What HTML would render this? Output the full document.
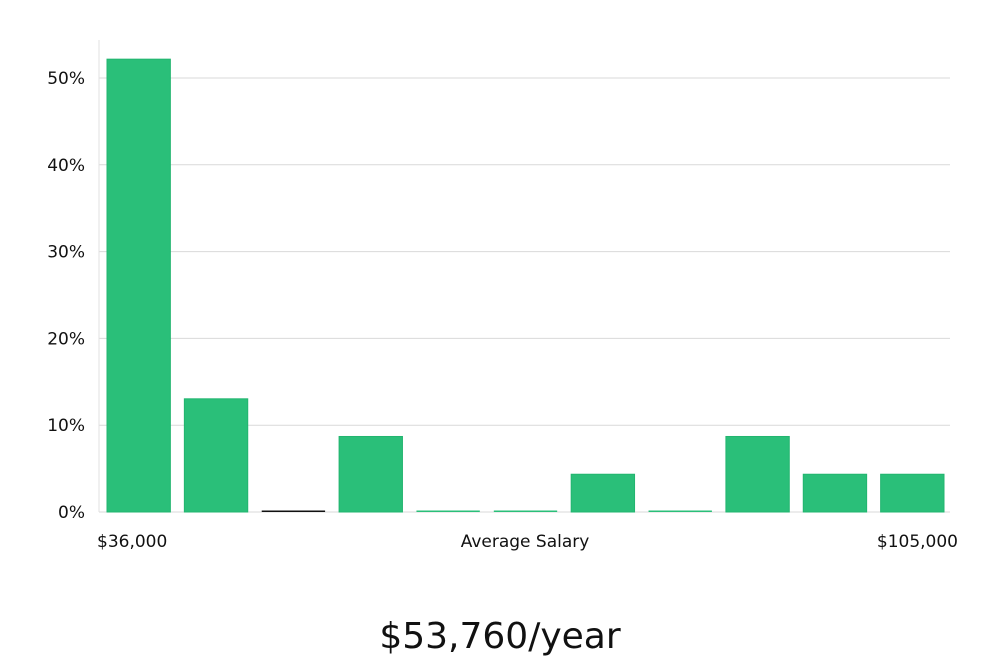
<!DOCTYPE html>
<html><head><meta charset="utf-8"><style>
body{margin:0;background:#fff;width:1000px;height:660px;overflow:hidden}
svg{display:block}
text{font-family:"DejaVu Sans","Liberation Sans",sans-serif;fill:#111}
</style></head><body>
<svg id="chart" width="1000" height="660"></svg>
<script>
const categories = ["b1","b2","b3","b4","b5","b6","b7","b8","b9","b10","b11"];
const values = [52.17, 13.04, 0, 8.70, 0, 0, 4.35, 0, 8.70, 4.35, 4.35];
const yTicks = [0, 10, 20, 30, 40, 50];
const yTickLabels = ["0%","10%","20%","30%","40%","50%"];
const xLabels = ["$36,000", "Average Salary", "$105,000"];
const summary = "$53,760/year";

const NS = "http://www.w3.org/2000/svg";
const svg = document.getElementById("chart");
const x0 = 99, x1 = 950, yBase = 512, pxPerPct = 8.68;
const band = (x1 - x0) / categories.length;
const y = v => yBase - v * pxPerPct;
function el(t, a){const e=document.createElementNS(NS,t);for(const k in a)e.setAttribute(k,a[k]);svg.appendChild(e);return e;}

yTicks.forEach((t,i)=>{
  const g = el("line",{x1:x0,x2:x1,y1:y(t),y2:y(t),stroke:"#d9d9d9","stroke-width":1});
  
  
  const lb = el("text",{x:85,y:y(t)+6,"text-anchor":"end","font-size":17});
  lb.textContent = yTickLabels[i];
  
  
});
const ax = el("line",{x1:x0,x2:x0,y1:40,y2:yBase,stroke:"#e0e0e0","stroke-width":1});



values.forEach((v,i)=>{
  const bx = x0 + i*band + 8, w = band - 14;
  if (v > 0) {
    const r = el("rect",{x:bx,y:y(v),width:w,height:yBase-y(v),fill:"#2abf79",stroke:"#22b56f","stroke-width":1});
    
    
  } else {
    const r = el("rect",{x:bx,y:yBase-1.5,width:w,height:1.5,fill:i===2?"#111":"#2abf79"});
    
    
  }
});

const xa = el("text",{x:97,y:547,"font-size":17}); xa.textContent=xLabels[0];
 
const xm = el("text",{x:525,y:547,"font-size":17,"text-anchor":"middle"}); xm.textContent=xLabels[1];
 
const xb = el("text",{x:958,y:547,"font-size":17,"text-anchor":"end"}); xb.textContent=xLabels[2];
 
const s = el("text",{x:500,y:648,"font-size":36,"text-anchor":"middle","font-family":"Liberation Sans, sans-serif"}); s.textContent=summary;
 
</script>
</body></html>
